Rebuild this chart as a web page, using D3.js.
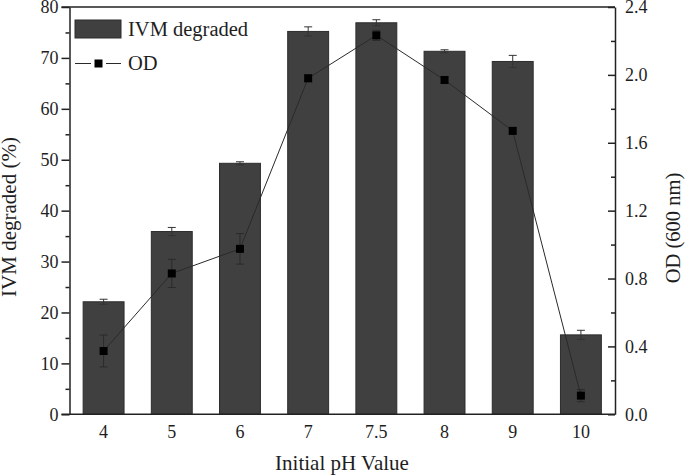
<!DOCTYPE html>
<html><head><meta charset="utf-8">
<script src="https://cdn.jsdelivr.net/npm/d3@7"></script>
<style>
html,body{margin:0;padding:0;background:#fff;}
svg text{font-family:"Liberation Serif","Times New Roman",serif;fill:#1e1e1e;}
</style></head>
<body><svg id="c" width="685" height="476"></svg>
<script>
const categories = ["4","5","6","7","7.5","8","9","10"];
const ivmDegraded = [22.1, 35.9, 49.3, 75.2, 76.9, 71.3, 69.3, 15.6];
const ivmErr = [0.5, 0.8, 0.3, 0.9, 0.6, 0.3, 1.2, 0.9];
const odValues = [0.373, 0.83, 0.975, 1.98, 2.233, 1.97, 1.67, 0.11];
const odErr = [0.094, 0.083, 0.09, 0.02, 0.03, 0.02, 0.02, 0.036];
const leftTicks = [0,10,20,30,40,50,60,70,80];
const rightTicks = [0.0,0.4,0.8,1.2,1.6,2.0,2.4];

const svg = d3.select("#c");
const L = 69.5, R = 615, T = 7, B = 414.3;
const ink = "#222";

const x = d3.scaleBand().domain(categories).range([L, R]).paddingInner(0.4).paddingOuter(0.2);
const yL = d3.scaleLinear().domain([0, 80]).range([B, T]);
const yR = d3.scaleLinear().domain([0, 2.4]).range([B, T]);

// bars
svg.append("g").selectAll("rect").data(categories).join("rect")
  .attr("x", d => x(d)).attr("width", x.bandwidth())
  .attr("y", (d,i) => yL(ivmDegraded[i])).attr("height", (d,i) => B - yL(ivmDegraded[i]))
  .attr("fill", "#404040").attr("stroke", "#2c2c2c").attr("stroke-width", 1);

// bar error bars
const eb = svg.append("g").attr("stroke", "#333").attr("stroke-width", 1);
categories.forEach((c,i) => {
  const cx = x(c) + x.bandwidth()/2;
  const y1 = yL(ivmDegraded[i] + ivmErr[i]), y0 = yL(ivmDegraded[i] - ivmErr[i]);
  eb.append("line").attr("x1", cx).attr("x2", cx).attr("y1", y0).attr("y2", y1);
  eb.append("line").attr("x1", cx-4).attr("x2", cx+4).attr("y1", y1).attr("y2", y1);
  eb.append("line").attr("x1", cx-4).attr("x2", cx+4).attr("y1", y0).attr("y2", y0);
});

// OD line
const cxOf = c => x(c) + x.bandwidth()/2;
svg.append("path").datum(categories)
  .attr("d", d3.line().x(c => cxOf(c)).y((c,i) => yR(odValues[i])))
  .attr("fill", "none").attr("stroke", "#2a2a2a").attr("stroke-width", 1);
const oe = svg.append("g").attr("stroke", "#2a2a2a").attr("stroke-width", 1);
categories.forEach((c,i) => {
  const cx = cxOf(c);
  const y1 = yR(odValues[i] + odErr[i]), y0 = yR(odValues[i] - odErr[i]);
  oe.append("line").attr("x1", cx).attr("x2", cx).attr("y1", y0).attr("y2", y1);
  oe.append("line").attr("x1", cx-4).attr("x2", cx+4).attr("y1", y1).attr("y2", y1);
  oe.append("line").attr("x1", cx-4).attr("x2", cx+4).attr("y1", y0).attr("y2", y0);
});
svg.append("g").selectAll("rect").data(categories).join("rect")
  .attr("x", c => cxOf(c) - 4).attr("y", (c,i) => yR(odValues[i]) - 4)
  .attr("width", 8).attr("height", 8).attr("fill", "#000");

// axes
function styleAxis(g){
  g.selectAll("path,line").attr("stroke", ink).attr("stroke-width", 1.5);
  g.selectAll("text").attr("font-size", 18).attr("fill", "#1e1e1e")
    .style("font-family", '"Liberation Serif","Times New Roman",serif');
}
const gl = svg.append("g").attr("transform", `translate(${L},0)`)
  .call(d3.axisLeft(yL).tickValues(leftTicks).tickSize(8).tickPadding(3).tickSizeOuter(0).tickFormat(d3.format("d")));
styleAxis(gl);
svg.append("g").attr("transform", `translate(${L},0)`)
  .call(d3.axisLeft(yL).tickValues(d3.range(5, 80, 10)).tickSize(4).tickFormat("")).call(g => { g.select(".domain").remove(); styleAxis(g); });

const gr = svg.append("g").attr("transform", `translate(${R},0)`)
  .call(d3.axisRight(yR).tickValues(rightTicks).tickSize(-7).tickPadding(10).tickSizeOuter(0).tickFormat(d3.format(".1f")));
styleAxis(gr);
svg.append("g").attr("transform", `translate(${R},0)`)
  .call(d3.axisRight(yR).tickValues(d3.range(0.2, 2.4, 0.4)).tickSize(-4).tickFormat("")).call(g => { g.select(".domain").remove(); styleAxis(g); });

const gb = svg.append("g").attr("transform", `translate(0,${B})`)
  .call(d3.axisBottom(x).tickSize(0).tickPadding(11).tickSizeOuter(0));
styleAxis(gb);
gb.select(".domain").remove();
svg.append("line").attr("x1", L - 8).attr("x2", R).attr("y1", B).attr("y2", B).attr("stroke", ink).attr("stroke-width", 1.5);
svg.append("line").attr("x1", L - 8).attr("x2", R).attr("y1", T).attr("y2", T).attr("stroke", ink).attr("stroke-width", 1.5);

// axis titles
svg.append("text").attr("transform", "translate(16,217) rotate(-90)").attr("text-anchor", "middle")
  .attr("font-size", 21).text("IVM degraded (%)");
svg.append("text").attr("transform", "translate(680,228) rotate(-90)").attr("text-anchor", "middle")
  .attr("font-size", 20.5).text("OD (600 nm)");
svg.append("text").attr("x", 342).attr("y", 470).attr("text-anchor", "middle")
  .attr("font-size", 21).text("Initial pH Value");

// legend
const lg = svg.append("g");
lg.append("rect").attr("x", 75).attr("y", 20).attr("width", 46).attr("height", 18)
  .attr("fill", "#404040").attr("stroke", "#2c2c2c");
lg.append("text").attr("x", 128).attr("y", 36).attr("font-size", 20.5).text("IVM degraded");
lg.append("line").attr("x1", 75).attr("x2", 91).attr("y1", 63.5).attr("y2", 63.5).attr("stroke", "#2a2a2a");
lg.append("line").attr("x1", 106).attr("x2", 121).attr("y1", 63.5).attr("y2", 63.5).attr("stroke", "#2a2a2a");
lg.append("rect").attr("x", 94.5).attr("y", 59.5).attr("width", 8).attr("height", 8).attr("fill", "#000");
lg.append("text").attr("x", 128).attr("y", 70).attr("font-size", 20.5).text("OD");
</script></body></html>
